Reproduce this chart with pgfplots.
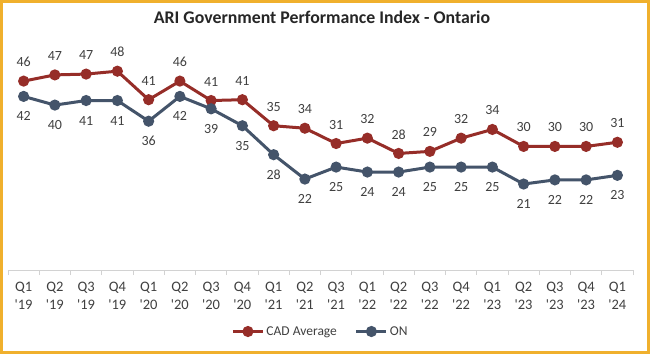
\documentclass[border=0pt]{standalone}
\usepackage{pgfplots}
\pgfplotsset{compat=1.18}
\usepackage{fontspec}
\setmainfont{Carlito}[Ligatures=TeXOff]
\definecolor{cadred}{RGB}{150,45,40}
\definecolor{onblue}{RGB}{68,84,106}
\definecolor{framec}{RGB}{240,176,45}
\definecolor{txt}{RGB}{64,64,64}
\definecolor{axgray}{RGB}{210,210,210}
\begin{document}
\begin{tikzpicture}[x=1pt,y=1pt]
\fill[white] (0,0) rectangle (650,354);
\draw[framec, line width=3pt] (1.5,1.5) rectangle (648.5,352.5);
\node[font=\bfseries\fontsize{17.8}{20}\selectfont, text=black!85] at (322,337) {ARI Government Performance Index - Ontario};
\begin{axis}[
  at={(8pt,84pt)}, anchor=south west,
  scale only axis, width=625pt, height=248pt,
  xmin=-0.5, xmax=19.5, ymin=0, ymax=60,
  axis x line*=bottom, axis y line=none,
  x axis line style={axgray, line width=0.8pt, -},
  xtick={0,...,19},
  xticklabels={Q1\\'19,Q2\\'19,Q3\\'19,Q4\\'19,Q1\\'20,Q2\\'20,Q3\\'20,Q4\\'20,Q1\\'21,Q2\\'21,Q3\\'21,Q1\\'22,Q2\\'22,Q3\\'22,Q4\\'22,Q1\\'23,Q2\\'23,Q3\\'23,Q4\\'23,Q1\\'24},
  major tick length=0pt,
  minor xtick={-0.5,0.5,...,19.5},
  minor tick length=5pt,
  tick align=outside,
  xtick style={axgray, line width=0.8pt},
  xticklabel style={align=center, font=\fontsize{14.5}{17.5}\selectfont, text=txt, yshift=-9pt},
  /pgf/number format/assume math mode=true,
  nodes near coords,
  nodes near coords style={font=\fontsize{14}{16}\selectfont, text=txt, anchor=center, /pgf/number format/fixed, /pgf/number format/precision=0},
  legend style={at={(0.5,-0.248)}, anchor=center, legend columns=2, draw=none, fill=none,
    font=\fontsize{13.5}{15}\selectfont, text=txt,
    /tikz/every even column/.append style={column sep=16pt}},
  legend image code/.code={\draw[mark repeat=2,mark phase=2] plot coordinates {(0pt,0pt)(15pt,0pt)(30pt,0pt)};},
  clip=false,
]
\addplot[cadred, line width=3pt, mark=*, mark size=4pt, mark options={solid, fill=cadred},
  every node near coord/.append style={yshift=19pt}]
  coordinates {(0,45.7)(1,47.2)(2,47.4)(3,48.1)(4,41.2)(5,45.7)(6,41.0)(7,41.2)(8,34.9)(9,34.3)(10,30.6)(11,31.9)(12,28.2)(13,28.7)(14,31.9)(15,34.0)(16,29.9)(17,29.9)(18,29.9)(19,30.9)};
\addlegendentry{CAD Average}
\addplot[onblue, line width=3pt, mark=*, mark size=4pt, mark options={solid, fill=onblue},
  every node near coord/.append style={yshift=-20pt}]
  coordinates {(0,42.0)(1,39.9)(2,41.0)(3,41.0)(4,36.0)(5,42.0)(6,39.0)(7,34.9)(8,27.9)(9,22.0)(10,24.9)(11,23.7)(12,23.7)(13,24.9)(14,24.9)(15,24.9)(16,20.8)(17,21.8)(18,21.8)(19,22.9)};
\addlegendentry{ON}
\end{axis}
\end{tikzpicture}
\end{document}
